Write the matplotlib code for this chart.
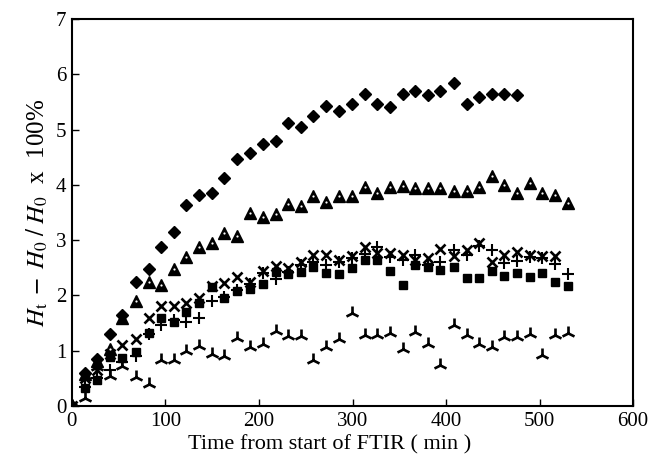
import matplotlib
matplotlib.use("Agg")
import matplotlib.pyplot as plt

# Sampling times (min)
time = [0, 14, 27, 41, 54, 68, 82, 95, 109, 122,
        136, 150, 163, 177, 190, 204, 218, 231, 245, 258,
        272, 286, 299, 313, 326, 340, 354, 367, 381, 394,
        408, 422, 435, 449, 462, 476, 490, 503, 517, 530]

diamond = [0, 0.60, 0.86, 1.30, 1.65, 2.25, 2.47, 2.87, 3.14, 3.63,
           3.82, 3.86, 4.13, 4.47, 4.58, 4.74, 4.79, 5.12, 5.05, 5.25,
           5.43, 5.34, 5.47, 5.64, 5.46, 5.41, 5.64, 5.70, 5.63, 5.70,
           5.84, 5.46, 5.58, 5.64, 5.64, 5.62]

triangle = [0, 0.58, 0.82, 1.04, 1.60, 1.90, 2.25, 2.19, 2.47, 2.69,
            2.88, 2.94, 3.13, 3.07, 3.50, 3.42, 3.48, 3.65, 3.62, 3.80,
            3.69, 3.80, 3.79, 3.97, 3.86, 3.97, 3.98, 3.94, 3.95, 3.94,
            3.89, 3.89, 3.97, 4.16, 4.00, 3.85, 4.03, 3.85, 3.82, 3.68]

cross = [0, 0.50, 0.65, 0.95, 1.10, 1.21, 1.60, 1.81, 1.81, 1.87,
         1.95, 2.18, 2.22, 2.34, 2.25, 2.45, 2.54, 2.49, 2.61, 2.73,
         2.73, 2.64, 2.72, 2.88, 2.76, 2.76, 2.73, 2.64, 2.67, 2.84,
         2.71, 2.82, 2.94, 2.61, 2.73, 2.79, 2.74, 2.71, 2.72]

plus = [0, 0.35, 0.50, 0.65, 0.80, 0.90, 1.30, 1.46, 1.55, 1.52,
        1.60, 1.90, 1.97, 2.10, 2.20, 2.40, 2.29, 2.42, 2.55, 2.61,
        2.55, 2.60, 2.68, 2.75, 2.88, 2.70, 2.65, 2.73, 2.55, 2.60,
        2.83, 2.73, 2.90, 2.82, 2.58, 2.63, 2.70, 2.68, 2.57, 2.39]

square = [0, 0.33, 0.47, 0.89, 0.87, 0.98, 1.33, 1.60, 1.52, 1.71,
          1.86, 2.16, 1.95, 2.08, 2.12, 2.21, 2.43, 2.39, 2.43, 2.52,
          2.41, 2.39, 2.49, 2.65, 2.64, 2.45, 2.19, 2.55, 2.52, 2.46,
          2.52, 2.31, 2.31, 2.45, 2.35, 2.41, 2.33, 2.41, 2.24, 2.18]

tripod = [0, 0.14, 0.71, 0.54, 0.72, 0.52, 0.40, 0.84, 0.84, 1.00,
          1.08, 0.94, 0.90, 1.24, 1.07, 1.12, 1.36, 1.27, 1.27, 0.84,
          1.07, 1.21, 1.69, 1.28, 1.28, 1.33, 1.03, 1.34, 1.12, 0.74,
          1.46, 1.28, 1.13, 1.07, 1.25, 1.25, 1.31, 0.92, 1.28, 1.33]

plt.rcParams['font.family'] = ['Liberation Serif', 'DejaVu Serif']
plt.rcParams['mathtext.fontset'] = 'stix'

fig = plt.figure(figsize=(6.48, 4.62), dpi=100)
ax = fig.add_axes([0.111, 0.121, 0.866, 0.838])

k = dict(linestyle='none', color='black')
ax.plot(time[:len(tripod)], tripod, marker='2', ms=10, mew=1.9, **k)
ax.plot(time[:len(plus)], plus, marker='+', ms=8, mew=1.5, **k)
ax.plot(time[:len(cross)], cross, marker='x', ms=6.5, mew=1.9, **k)
ax.plot(time[:len(square)], square, marker='s', ms=6, **k)
# bold triangles with a small white centre
ax.plot(time[:len(triangle)], triangle, marker='^', ms=8, **k)
ax.plot(time[:len(triangle)], triangle, marker='o', ms=1.6, mfc='white',
        mew=0, linestyle='none')
ax.plot(time[:len(diamond)], diamond, marker='D', ms=6.5, **k)

ax.set_xlim(0, 600)
ax.set_ylim(0, 7)
ax.set_xticks(range(0, 601, 100))
ax.set_yticks(range(0, 8))
ax.tick_params(direction='in', length=5, width=1, labelsize=15,
               top=False, right=False, pad=4)
for s in ax.spines.values():
    s.set_linewidth(1.5)

ax.set_xlabel('Time from start of FTIR ( min )', fontsize=16, labelpad=1)
ax.xaxis.set_label_coords(0.46, -0.075)
ax.set_ylabel(r'$H_{\rm t}\;-\;H_0\;/\;H_0$  x  100%', fontsize=18, labelpad=4)

fig.savefig('out.png', dpi=100, facecolor='white')
